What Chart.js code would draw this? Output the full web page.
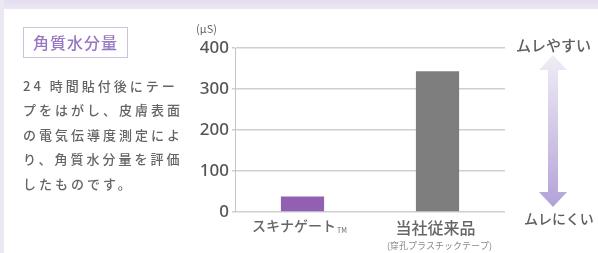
<!DOCTYPE html>
<html><head><meta charset="utf-8">
<script src="https://cdn.jsdelivr.net/npm/chart.js@4/dist/chart.umd.min.js"></script>
<style>
html,body{margin:0;padding:0;background:#fff;width:598px;height:253px;overflow:hidden;font-family:"Noto Sans CJK JP","Noto Sans",sans-serif;}
#wrap{position:relative;width:598px;height:253px;}
#topband{position:absolute;left:0;top:0;width:598px;height:9px;background:linear-gradient(#e4def0,#ebe7f4);}
#leftband{position:absolute;left:0;top:0;width:4px;height:253px;background:#ece8f3;}
#c{position:absolute;left:0;top:0;}
#tag{position:absolute;left:23px;top:27px;width:103px;height:29px;border:1px solid #cbc4d8;color:#9678c2;font-size:16px;font-weight:500;line-height:29px;text-align:center;letter-spacing:1px;}
#para{position:absolute;left:23px;top:74px;color:#646464;font-size:13px;font-weight:500;line-height:24.4px;letter-spacing:3px;white-space:nowrap;}
#unit{position:absolute;left:196px;top:20px;font-size:11px;color:#666;}
.side{position:absolute;font-size:14px;color:#5e5e5e;font-weight:500;white-space:nowrap;}
#arrow{position:absolute;left:538px;top:55px;}
</style></head>
<body><div id="wrap">
<div id="topband"></div><div id="leftband"></div>
<canvas id="c" width="598" height="253"></canvas>
<div id="tag">角質水分量</div>
<div id="para">24 時間貼付後にテー<br>プをはがし、皮膚表面<br>の電気伝導度測定によ<br>り、角質水分量を評価<br>したものです。</div>
<div id="unit">(μS)</div>
<div class="side" style="left:516px;top:34px;font-size:15px;">ムレやすい</div>
<div class="side" style="left:524px;top:208px;">ムレにくい</div>
<svg id="arrow" width="30" height="152" viewBox="0 0 30 152">
<defs><linearGradient id="g" x1="0" y1="0" x2="0" y2="1">
<stop offset="0" stop-color="#f0edf6"/><stop offset="1" stop-color="#b3a2d8"/></linearGradient></defs>
<path d="M15 0 L29 15 L20 15 L20 137 L29 137 L15 152 L1 137 L10 137 L10 15 L1 15 Z" fill="url(#g)"/>
</svg>
</div>
<script>
const categories = ["スキナゲート", "当社従来品"];
const marks = ["TM", ""];
const subLabels = ["", "(穿孔プラスチックテープ)"];
const values = [38, 343];
const yTicks = [0, 100, 200, 300, 400];
const barColors = ["#9160b2", "#7e7e7e"];

const xLabelPlugin = {
  id: "xLabels",
  afterDraw(chart) {
    const ctx = chart.ctx;
    const xs = chart.scales.x;
    ctx.save();
    ctx.textBaseline = "middle";
    categories.forEach((name, i) => {
      const x = xs.getPixelForValue(i);
      const big = i === 1;
      const mainFont = "500 " + (big ? "16px" : "14px") + ' "Noto Sans CJK JP"';
      ctx.font = mainFont;
      const w1 = ctx.measureText(name).width;
      ctx.font = '7px "Noto Sans CJK JP"';
      const w2 = marks[i] ? ctx.measureText(marks[i]).width + 1 : 0;
      const start = x - (w1 + w2) / 2 - (big ? 2 : 3);
      ctx.fillStyle = "#666";
      ctx.textAlign = "left";
      ctx.font = mainFont;
      ctx.fillText(name, start, big ? 228 : 226);
      if (marks[i]) {
        ctx.font = '7px "Noto Sans CJK JP"';
        ctx.fillText(marks[i], start + w1 + 1, 230);
      }
      if (subLabels[i]) {
        ctx.font = '9px "Noto Sans CJK JP"';
        ctx.textAlign = "center";
        ctx.fillStyle = "#888";
        ctx.fillText(subLabels[i], x + 2, 246);
      }
    });
    ctx.restore();
  }
};

new Chart(document.getElementById("c"), {
  type: "bar",
  data: {
    labels: categories,
    datasets: [{
      data: values,
      backgroundColor: barColors,
      borderWidth: 0,
      barPercentage: 0.32,
      categoryPercentage: 1
    }]
  },
  options: {
    responsive: false,
    animation: false,
    devicePixelRatio: 1,
    layout: { padding: { left: 190, right: 93, top: 48, bottom: 0 } },
    plugins: { legend: { display: false }, tooltip: { enabled: false } },
    scales: {
      x: {
        grid: { display: false },
        border: { display: false },
        ticks: { display: false },
        afterFit(s) { s.height = 41; }
      },
      y: {
        min: 0, max: 400,
        afterBuildTicks(s) { s.ticks = yTicks.map(v => ({ value: v })); },
        afterFit(s) { s.width = 45; },
        grid: { color: "#cfcfcf", lineWidth: 1.5, tickLength: 3, drawTicks: true },
        border: { display: true, color: "#c4c4c4", width: 1 },
        ticks: { color: "#555", padding: 3, font: { family: "Noto Sans", size: 17, weight: 500 } }
      }
    }
  },
  plugins: [xLabelPlugin]
});
</script>
</body></html>
